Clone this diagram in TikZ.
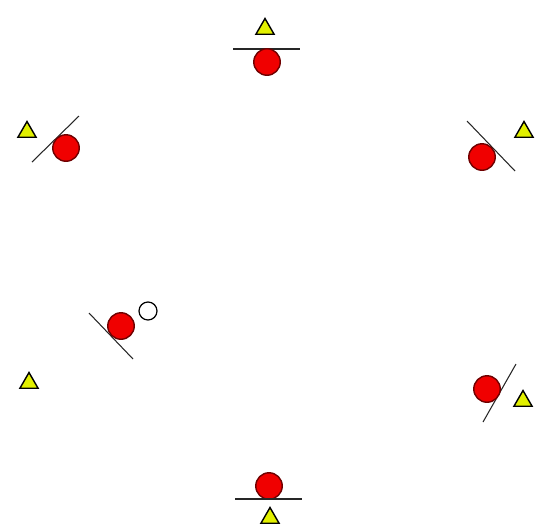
\documentclass[tikz,border=0pt]{standalone}
\usetikzlibrary{shapes.geometric}

\definecolor{ballred}{RGB}{240,0,0}
\definecolor{ballrim}{RGB}{110,0,0}
\definecolor{markyellow}{RGB}{226,240,0}

\tikzset{
  ball/.style={circle, draw=ballrim, line width=0.8pt, fill=ballred, minimum size=0.53cm, inner sep=0pt},
  hole/.style={circle, draw=black, line width=0.7pt, fill=white, minimum size=0.36cm, inner sep=0pt},
  marker/.style={regular polygon, regular polygon sides=3, draw=black, line width=0.8pt, fill=markyellow, minimum size=0.42cm, inner sep=0pt},
  wall/.style={draw=black!85, line width=0.6pt}
}

\begin{document}
\begin{tikzpicture}[x={(0.02cm,0cm)},y={(0cm,-0.02cm)}]
\useasboundingbox (0,0) rectangle (536,528);

% top
\node[marker] (mt) at (265,29) {};
\coordinate (wt1) at (233,49);
\coordinate (wt2) at (300,49);
\draw[wall] (wt1) -- (wt2);
\node[ball] (bt) at (267,62) {};

% upper left
\node[marker] (mul) at (27,132) {};
\coordinate (wul1) at (32,162);
\coordinate (wul2) at (79,116);
\draw[wall] (wul1) -- (wul2);
\node[ball] (bul) at (66,148) {};

% upper right
\node[marker] (mur) at (524,132) {};
\coordinate (wur1) at (467,121);
\coordinate (wur2) at (515,171);
\draw[wall] (wur1) -- (wur2);
\node[ball] (bur) at (482,157) {};

% middle left
\coordinate (wml1) at (89,313);
\coordinate (wml2) at (133,359);
\draw[wall] (wml1) -- (wml2);
\node[ball] (bml) at (121,326) {};
\node[hole] (hml) at (148,311) {};

% lower left
\node[marker] (mll) at (29,383) {};

% lower right
\coordinate (wlr1) at (516,364);
\coordinate (wlr2) at (483,422);
\draw[wall] (wlr1) -- (wlr2);
\node[ball] (blr) at (487,389) {};
\node[marker] (mlr) at (523,401) {};

% bottom
\node[ball] (bb) at (269,486) {};
\coordinate (wb1) at (235,499);
\coordinate (wb2) at (302,499);
\draw[wall] (wb1) -- (wb2);
\node[marker] (mb) at (270,518) {};
\end{tikzpicture}
\end{document}
